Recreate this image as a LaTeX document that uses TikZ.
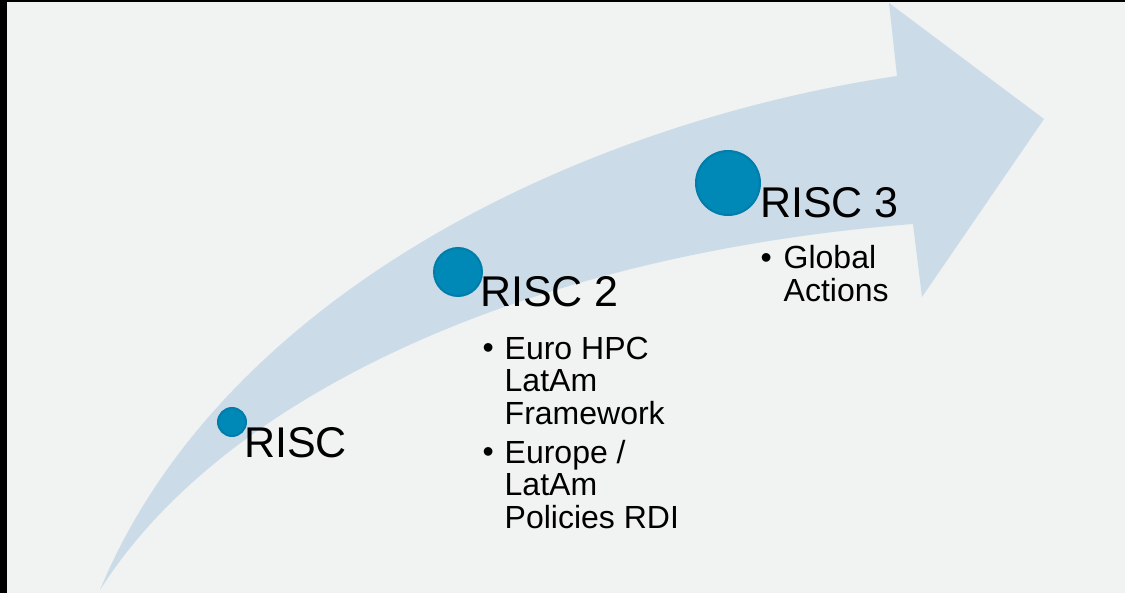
\documentclass[tikz,border=0pt]{standalone}
\usepackage{fontspec}
\setmainfont{Liberation Sans}
\definecolor{fond}{HTML}{F1F2F2}
\definecolor{bleuclair}{HTML}{CBDCE8}
\definecolor{bleupastille}{HTML}{0088B7}
\definecolor{bordpastille}{HTML}{007DAA}
\begin{document}
\begin{tikzpicture}[x=1pt,y=-1pt]
\tikzstyle{fleche}=[fill=bleuclair]
\tikzset{pastille/.style={circle,fill=bleupastille,draw=bordpastille,line width=2pt,inner sep=0pt,minimum size=#1},
pastille/.default={28pt},
titre/.style={anchor=base west,inner sep=0pt,font=\fontsize{43}{43}\selectfont},
puce/.style={anchor=base west,inner sep=0pt,font=\fontsize{32}{33}\selectfont},
texte/.style={puce,align=left}}
% fond et bords
\fill[black] (0,0) rectangle (1125,593);
\fill[fond] (7,2) rectangle (1125,593);
\useasboundingbox (0,0) rectangle (1125,593);
% la grande fleche
\fill[fleche] (100,590) .. controls (220,300) and (570,125) .. (897,76) -- (889,3) -- (1044,119) -- (922,297) -- (913,224) .. controls (520,255) and (220,400) .. (100,590) -- cycle;

\node[pastille] (P1) at (232,422) {};
\node[pastille=48pt] (P2) at (458,272) {};
\node[pastille=64pt] (P3) at (728,183) {};

\node[titre] (T1) at (244,458) {RISC};
\node[titre] (T2) at (480,307) {RISC 2};
\node[titre] (T3) at (760,218) {RISC 3};

% puces (la base d'un texte sur plusieurs lignes est sa derniere ligne)
\node[puce] (B1) at (482.4,359) {\textbullet};
\node[texte] (E1) at (504.5,425) {Euro HPC\\LatAm\\Framework};
\node[puce] (B2) at (482.4,463) {\textbullet};
\node[texte] (E2) at (504.5,529) {Europe /\\LatAm\\Policies RDI};
\node[puce] (B3) at (760.4,269) {\textbullet};
\node[texte] (E3) at (783.5,302) {Global\\Actions};

\end{tikzpicture}
\end{document}
